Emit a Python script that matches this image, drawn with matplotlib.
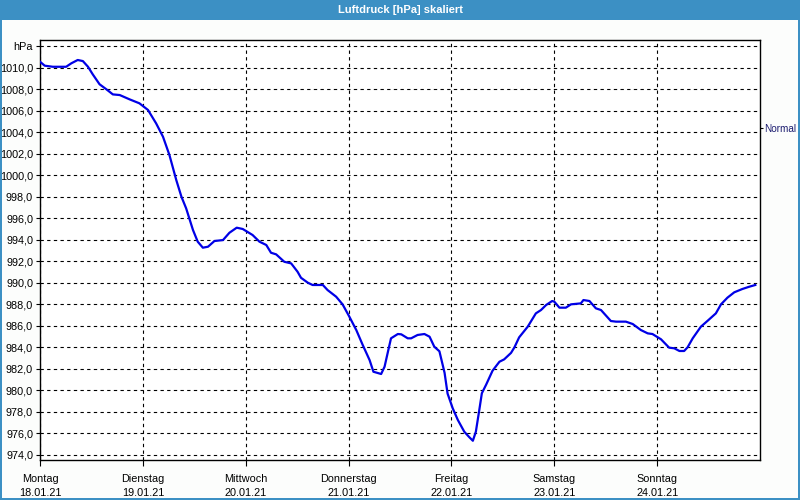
import matplotlib
matplotlib.use('Agg')
import matplotlib.pyplot as plt
from matplotlib.patches import Rectangle
import numpy as np

# Hours since Monday 18.01.21 00:00 and pressure in hPa
hours = [0, 1.1, 3.0, 6.1, 7.3, 8.8, 10.0, 11.2, 12.3, 13.9, 15.5, 17.0, 18.6, 20.9, 23.2,
         25.2, 27.1, 28.7, 30.2, 31.8, 33.0, 34.1, 35.7, 36.8, 38.0, 39.2, 40.7, 42.7, 44.2,
         45.9, 47.3, 49.6, 51.2, 52.8, 53.9, 55.1, 57.0, 58.6, 60.1, 60.9, 62.5, 63.6, 66.0,
         67.1, 69.1, 70.6, 72.2, 73.8, 75.3, 76.9, 77.8, 79.6, 80.4, 81.1, 81.9, 83.5, 84.3,
         85.8, 86.6, 88.1, 89.7, 90.9, 92.0, 93.2, 94.4, 95.1, 96.3, 97.5, 99.0, 100.2, 101.0,
         101.7, 102.5, 103.1, 104.1, 105.6, 107.2, 108.3, 109.9, 110.7, 111.8, 113.8, 115.7,
         116.9, 118.1, 119.5, 120.0, 121.2, 122.7, 123.9, 126.2, 126.8, 128.2, 129.7, 130.9,
         133.2, 134.4, 136.7, 138.3, 140.2, 141.8, 142.9, 144.9, 146.8, 148.0, 149.2, 150.3,
         151.1, 152.3, 154.2, 155.8, 157.7, 158.9, 160.4, 162.0, 163.9, 165.5, 166.9]
pressure = [1010.54, 1010.17, 1010.07, 1010.07, 1010.39, 1010.7, 1010.6, 1010.07, 1009.37,
            1008.44, 1007.97, 1007.5, 1007.44, 1007.04, 1006.67, 1006.05, 1004.8, 1003.56,
            1001.86, 999.53, 997.98, 996.9, 994.88, 993.8, 993.24, 993.33, 993.86, 993.95,
            994.63, 995.1, 994.98, 994.42, 993.8, 993.49, 992.77, 992.62, 991.93, 991.78,
            991.0, 990.44, 989.98, 989.77, 989.77, 989.3, 988.68, 987.97, 986.81, 985.58,
            984.19, 982.79, 981.7, 981.49, 982.17, 983.41, 984.81, 985.21, 985.18, 984.81,
            984.81, 985.12, 985.21, 984.96, 984.03, 983.6, 981.6, 979.67, 978.3, 977.21,
            976.12, 975.6, 975.28, 976.12, 978.14, 979.7, 980.5, 981.8, 982.63, 982.85,
            983.45, 983.97, 984.9, 985.89, 987.13, 987.44, 987.91, 988.28, 988.22, 987.66,
            987.66, 987.97, 988.06, 988.37, 988.28, 987.6, 987.44, 986.42, 986.36, 986.36,
            986.14, 985.58, 985.27, 985.21, 984.72, 983.94, 983.88, 983.63, 983.63, 983.97,
            984.81, 985.89, 986.45, 987.13, 987.97, 988.59, 989.09, 989.4, 989.61, 989.77]

day_names = ['Montag', 'Dienstag', 'Mittwoch', 'Donnerstag', 'Freitag', 'Samstag', 'Sonntag']
day_dates = ['18.01.21', '19.01.21', '20.01.21', '21.01.21', '22.01.21', '23.01.21', '24.01.21']
normal_pressure = 1004.4
title = 'Luftdruck [hPa] skaliert'

bar_color = '#3c90c4'
plt.rcParams['font.family'] = ['Liberation Sans', 'DejaVu Sans']
fs = 7.8

fig = plt.figure(figsize=(8, 5), dpi=100, facecolor='#fcfdfc')

# title bar and window border
fig.patches.append(Rectangle((0, 1 - 20 / 500), 1, 20 / 500, transform=fig.transFigure,
                             facecolor=bar_color, edgecolor='none', zorder=0))
fig.patches.append(Rectangle((0, 0), 2 / 800, 1, transform=fig.transFigure,
                             facecolor=bar_color, edgecolor='none'))
fig.patches.append(Rectangle((1 - 2 / 800, 0), 2 / 800, 1, transform=fig.transFigure,
                             facecolor=bar_color, edgecolor='none'))
fig.patches.append(Rectangle((0, 0), 1, 2 / 500, transform=fig.transFigure,
                             facecolor=bar_color, edgecolor='none'))
fig.text(0.5, 1 - 10 / 500, title, ha='center', va='center', color='white',
         fontsize=8, fontweight='bold')

ax = fig.add_axes([40 / 800, 40 / 500, 720 / 800, 420 / 500])
ax.set_facecolor('white')
ax.plot(hours, pressure, color='#0000e6', lw=1.6, zorder=3)

ax.set_xlim(0, 168)
ax.set_ylim(973.49, 1012.56)

xt = np.arange(0, 168, 24)
ax.set_xticks(xt)
ax.set_xticklabels([f'{n}\n{d}' for n, d in zip(day_names, day_dates)], fontsize=fs,
                   linespacing=1.5)

yt = np.arange(974, 1013, 2)
ylabels = [f'{v:.1f}'.replace('.', ',') for v in yt]
ylabels[-1] = 'hPa'
ax.set_yticks(yt)
ax.set_yticklabels(ylabels, fontsize=fs)

ax.tick_params(axis='both', direction='out', length=3, width=0.8, pad=2, colors='black')
ax.tick_params(axis='x', length=4, pad=6)
ax.grid(True, color='black', linestyle=(0, (3, 3)), linewidth=0.8)
for s in ax.spines.values():
    s.set_color('black')
    s.set_linewidth(1.0)

ax2 = ax.twinx()
ax2.set_ylim(ax.get_ylim())
ax2.set_yticks([normal_pressure])
ax2.set_yticklabels(['Normal'], fontsize=7.2, color='#1c1c70')
ax2.tick_params(axis='y', direction='out', length=2.5, width=0.8, pad=0.8)
for s in ax2.spines.values():
    s.set_visible(False)

fig.savefig('out.png', dpi=100, facecolor=fig.get_facecolor())
